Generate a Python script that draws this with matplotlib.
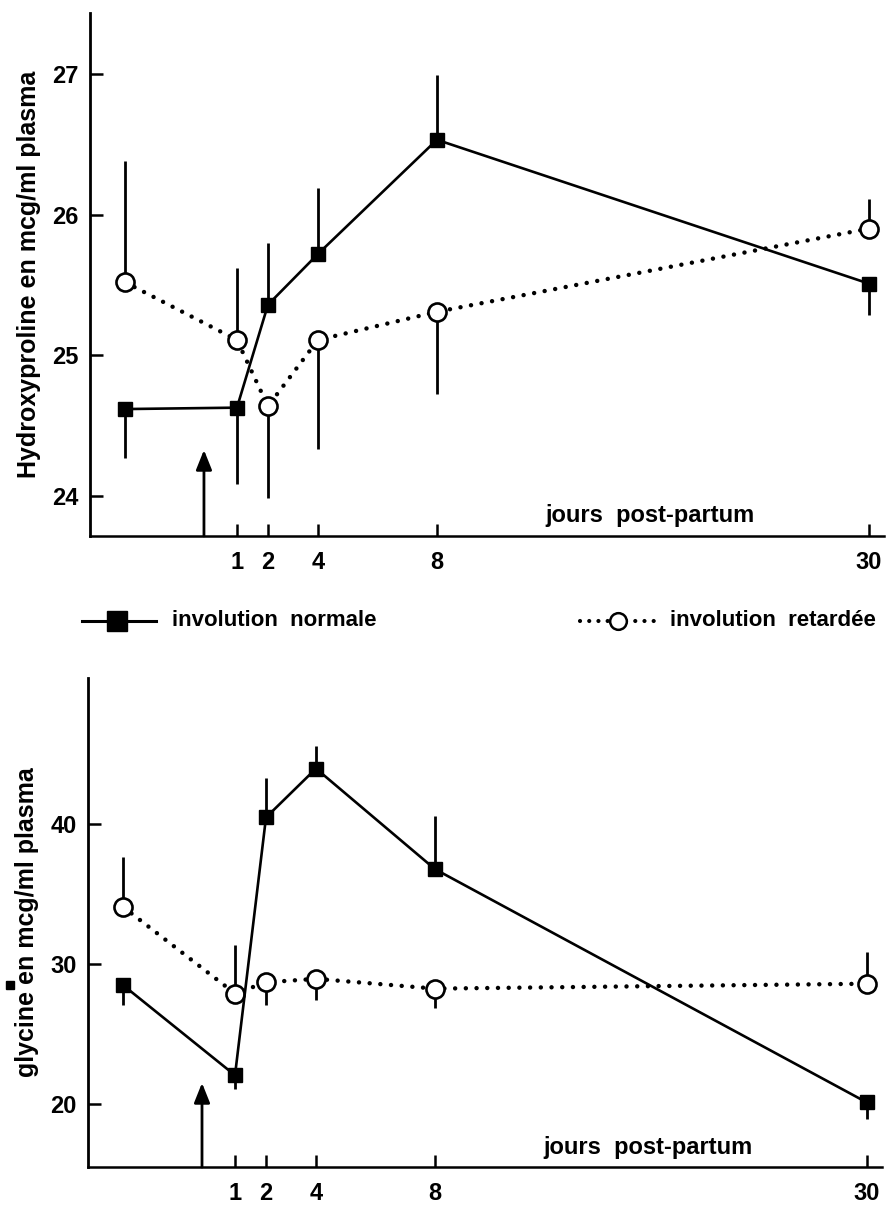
import numpy as np
import matplotlib
matplotlib.use("Agg")
import matplotlib.pyplot as plt
from matplotlib.scale import FuncScale

plt.rcParams['font.family'] = ['Liberation Sans', 'DejaVu Sans']
plt.rcParams['font.weight'] = 'bold'
plt.rcParams['axes.labelweight'] = 'bold'

# jours (pre-partum sample plotted at -2, not labelled; partum = 0)
jours = [-2, 1, 2, 4, 8, 30]
tick_jours = [1, 2, 4, 8, 30]
tick_labels = ["1", "2", "4", "8", "30"]

# hydroxyproline (mcg/ml plasma)
hyp_normale = [24.62, 24.63, 25.36, 25.72, 26.53, 25.51]
hyp_normale_err = [-0.35, -0.54, 0.44, 0.47, 0.46, -0.22]
hyp_retardee = [25.52, 25.11, 24.64, 25.11, 25.31, 25.90]
hyp_retardee_err = [0.86, 0.51, -0.65, -0.77, -0.58, 0.21]

# glycine (mcg/ml plasma)
gly_normale = [28.5, 22.05, 40.5, 44.0, 36.8, 20.1]
gly_normale_err = [-1.4, -1.0, 2.8, 1.6, 3.8, -1.2]
gly_retardee = [34.1, 27.9, 28.7, 28.95, 28.25, 28.6]
gly_retardee_err = [3.6, 3.5, -1.6, -1.5, -1.4, 2.3]

# hand-drawn, irregular day axis of the original figure
knot_days = [-3, -2, 0, 1, 2, 4, 8, 30, 31.5]
knot_pos = [90, 125, 204, 237, 268, 318, 437, 869, 884]


def fwd(x):
    return np.interp(x, knot_days, knot_pos)


def inv(p):
    return np.interp(p, knot_pos, knot_days)


def panel(ax, normale, n_err, retardee, r_err, ylim, yticks, ylabel, arrow_tip):
    ax.set_xscale(FuncScale(ax, (fwd, inv)))
    ax.set_xlim(-3, 31.5)
    ax.set_ylim(*ylim)
    x = np.array(jours, dtype=float)
    n = np.array(normale)
    r = np.array(retardee)
    ax.vlines(x, n, n + np.array(n_err), colors="black", lw=2.0, zorder=2)
    ax.vlines(x, r, r + np.array(r_err), colors="black", lw=2.0, zorder=2)
    ax.plot(x, n, "-", color="black", lw=1.9, marker="s", markersize=10,
            markerfacecolor="black", zorder=4)
    ax.plot(x, r, color="black", lw=3.2, linestyle=(0, (0.01, 2.4)),
            dash_capstyle="round", marker="o", markersize=13,
            markerfacecolor="white", markeredgecolor="black",
            markeredgewidth=1.9, zorder=3)
    ax.annotate("", xy=(0, arrow_tip), xytext=(0, ylim[0]),
                arrowprops=dict(arrowstyle="-|>,head_length=0.5,head_width=0.2",
                                lw=2.0, color="black",
                                mutation_scale=24, shrinkA=0, shrinkB=0))
    for s in ["top", "right"]:
        ax.spines[s].set_visible(False)
    ax.spines["left"].set_linewidth(2.0)
    ax.spines["bottom"].set_linewidth(1.8)
    ax.set_xticks(tick_jours)
    ax.set_xticklabels(tick_labels)
    ax.set_yticks(yticks)
    ax.tick_params(axis="x", direction="in", length=9, width=1.8,
                   labelsize=17, pad=11)
    ax.tick_params(axis="y", direction="in", length=9, width=1.8,
                   labelsize=17, pad=8)
    ax.minorticks_off()
    ax.set_ylabel(ylabel, fontsize=18, labelpad=8)
    ax.text(0.705, 0.04, "jours  post-partum", transform=ax.transAxes,
            fontsize=17, ha="center", va="center")


fig = plt.figure(figsize=(8.9, 12.06), dpi=100)
ax1 = fig.add_axes([0.1011, 0.5556, 0.892, 0.4337])
ax2 = fig.add_axes([0.0989, 0.0323, 0.892, 0.4055])

panel(ax1, hyp_normale, hyp_normale_err, hyp_retardee, hyp_retardee_err,
      (23.72, 27.43), [24, 25, 26, 27], "Hydroxyproline en mcg/ml plasma", 24.33)
panel(ax2, gly_normale, gly_normale_err, gly_retardee, gly_retardee_err,
      (15.48, 50.48), [20, 30, 40], "glycine en mcg/ml plasma", 21.5)

# legend drawn between the two panels
lg = fig.add_axes([0, 0, 1, 1], facecolor="none")
lg.set_xlim(0, 890)
lg.set_ylim(1206, 0)
lg.axis("off")
lg.plot([82, 156], [621, 621], "-", color="black", lw=2.2)
lg.plot([117], [621], "s", color="black", markersize=14)
lg.text(172, 621, "involution  normale", fontsize=16, va="center", ha="left")
lg.plot([580, 656], [621, 621], color="black", lw=3.0,
        linestyle=(0, (0.01, 2.2)), dash_capstyle="round")
lg.plot([618], [621], "o", markersize=12, markerfacecolor="white",
        markeredgecolor="black", markeredgewidth=1.8)
lg.text(670, 621, "involution  retardée", fontsize=16, va="center", ha="left")
# stray mark next to the glycine label in the scan
lg.plot([10], [985], "s", color="black", markersize=6)

fig.savefig("out.png", dpi=100)
